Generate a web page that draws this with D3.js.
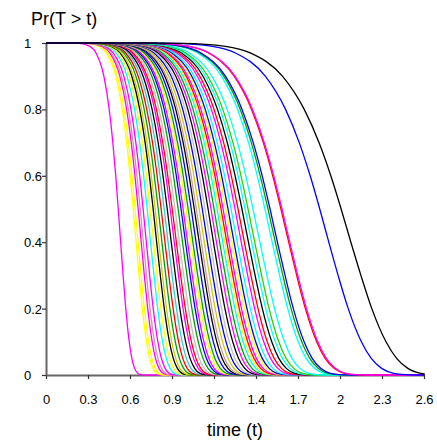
<html>
  <head>
    <script src="https://cdn.jsdelivr.net/npm/d3@7"></script>
    <style>
      body { margin: 0; background: #fff; }
      text { font-family: "Liberation Sans", Arial, sans-serif; }
    </style>
  </head>
  <body>
    <script>
      // median time (Pr = 0.5) of every curve, read left to right
      var medians = [0.497, 0.600, 0.613, 0.634, 0.648, 0.668, 0.696, 0.716, 0.737, 0.751,
                     0.772, 0.792, 0.813, 0.834, 0.854, 0.868, 0.888, 0.909, 0.929, 0.943,
                     0.964, 0.978, 0.999, 1.020, 1.034, 1.054, 1.075, 1.094, 1.115, 1.135,
                     1.156, 1.177, 1.191, 1.204, 1.218, 1.238, 1.252, 1.273, 1.300, 1.321,
                     1.348, 1.369, 1.390, 1.424, 1.506, 1.527, 1.541, 1.616, 1.623, 1.883, 2.030]
      var curveColors = ["#FF00FF", "#FFFF00", "#FFFF00", "#FF00FF", "#CC9999", "#FF00FF", "#00FFFF", "#FFFF00", "#000000", "#CCCC00",
                         "#00A000", "#FF0000", "#33CCCC", "#000000", "#FF00FF", "#FF0000", "#C0C0C0", "#00A000", "#0000FF", "#FF00FF",
                         "#FFFF00", "#00A000", "#0000FF", "#000000", "#CC9999", "#CCCC00", "#0000FF", "#C0C0C0", "#000000", "#FF00FF",
                         "#00A000", "#00FFFF", "#FFFF00", "#FF0000", "#FF00FF", "#FFFF00", "#0000FF", "#00FFFF", "#FF00FF", "#FF0000",
                         "#000000", "#00FFFF", "#33CC00", "#00FFFF", "#00FFFF", "#00A000", "#0000FF", "#FF0000", "#FF00FF", "#0000FF", "#000000"]

      // common shape of the curves: Pr level and time as a fraction of the median
      var levels = [1, 1, 0.999, 0.99, 0.97, 0.9, 0.8, 0.7, 0.6, 0.5, 0.4, 0.3, 0.2, 0.1, 0.05, 0.02, 0.005, 0.001, 0]
      var ratios = [0, 0.35, 0.463, 0.608, 0.692, 0.801, 0.875, 0.925, 0.965, 1, 1.033, 1.067, 1.104, 1.152, 1.188, 1.226, 1.27, 1.311, 1.36]

      var xTickLabels = ["0", "0.3", "0.6", "0.9", "1.2", "1.4", "1.7", "2", "2.3", "2.6"]
      var yTicks = [0, 0.2, 0.4, 0.6, 0.8, 1]
      var xMax = 2.6

      var width = 437
      var height = 448
      var margin = { top: 43, right: 13, bottom: 73, left: 46 }

      var svg = d3.select("body").append("svg")
        .attr("width", width)
        .attr("height", height)

      var x = d3.scaleLinear().domain([0, xMax]).range([margin.left, width - margin.right])
      var y = d3.scaleLinear().domain([0, 1]).range([height - margin.bottom, margin.top])

      var xTickValues = xTickLabels.map(function(d, i){ return i * xMax / (xTickLabels.length - 1) })

      // axes
      var xAxis = svg.append("g")
        .attr("transform", "translate(0," + y(0) + ")")
        .call(d3.axisBottom(x).tickValues(xTickValues).tickSize(4).tickSizeOuter(0)
          .tickFormat(function(d, i){ return xTickLabels[i] }))
      var yAxis = svg.append("g")
        .attr("transform", "translate(" + x(0) + ",0)")
        .call(d3.axisLeft(y).tickValues(yTicks).tickSize(4).tickSizeOuter(0)
          .tickFormat(function(d){ return d3.format("")(d) }))

      ;[xAxis, yAxis].forEach(function(g){
        g.select(".domain").attr("stroke", "#666").attr("stroke-width", 2)
        g.selectAll(".tick line").attr("stroke", "#333").attr("stroke-width", 1.2)
        g.selectAll(".tick text").attr("fill", "#000").attr("font-size", "13px")
          .attr("font-family", "'Liberation Sans', Arial, sans-serif")
      })
      xAxis.selectAll(".tick text").attr("dy", "1.7em")
      yAxis.selectAll(".tick text").attr("x", -22).attr("text-anchor", "start").attr("dy", "0.35em")

      // curves
      svg.append("clipPath").attr("id", "plot")
        .append("rect")
        .attr("x", x(0)).attr("y", y(1) - 3)
        .attr("width", x(xMax) - x(0) + 1).attr("height", y(0) - y(1) + 4)

      var line = d3.line()
        .x(function(d){ return x(d[0]) })
        .y(function(d){ return y(d[1]) })
        .curve(d3.curveMonotoneX)

      svg.append("g").attr("clip-path", "url(#plot)")
        .selectAll("path")
        .data(medians)
        .enter()
        .append("path")
        .attr("fill", "none")
        .attr("stroke", function(d, i){ return curveColors[i] })
        .attr("stroke-width", 1.3)
        .attr("d", function(m){
          var pts = levels.map(function(s, j){ return [ratios[j] * m, s] })
          if (pts[pts.length - 1][0] < xMax) pts.push([xMax, 0])
          return line(pts)
        })

      // labels
      svg.append("text")
        .attr("x", 31).attr("y", 25)
        .attr("font-size", "18px")
        .text("Pr(T > t)")

      svg.append("text")
        .attr("x", 235).attr("y", 436)
        .attr("text-anchor", "middle")
        .attr("font-size", "18px")
        .text("time (t)")
    </script>
  </body>
</html>
